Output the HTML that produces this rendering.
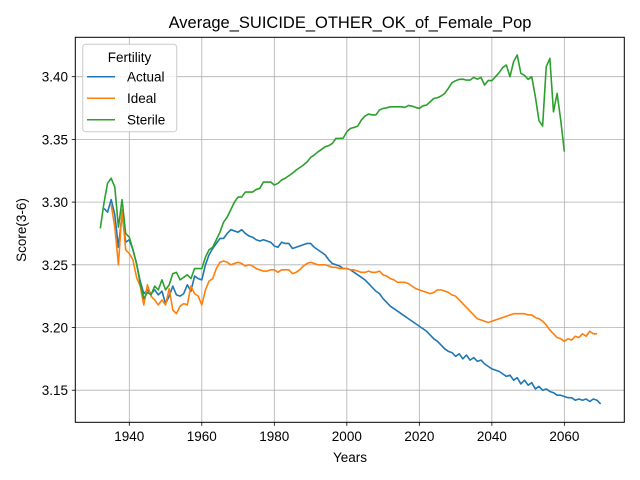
<!DOCTYPE html>
<html><head><meta charset="utf-8"><style>
body{margin:0;background:#fff;}
svg{display:block;font-family:"Liberation Sans","DejaVu Sans",sans-serif;}
</style></head><body>
<svg id="chart" width="640" height="480" xmlns="http://www.w3.org/2000/svg">
<rect width="640" height="480" fill="#fff"/>
<g id="grid"></g><g id="series"></g>
<rect x="75.3" y="37.3" width="549" height="385" fill="none" stroke="#000" stroke-width="1"/>
<g id="axes"></g>
<text x="350" y="28" text-anchor="middle" font-size="16.5" fill="#000">Average_SUICIDE_OTHER_OK_of_Female_Pop</text>
<text x="350" y="462" text-anchor="middle" font-size="13.5" fill="#000">Years</text>
<text transform="translate(26,230) rotate(-90)" text-anchor="middle" font-size="13.5" fill="#000">Score(3-6)</text>
<g>
<rect x="82.7" y="44.3" width="94" height="87.4" rx="3" fill="#fff" fill-opacity="0.8" stroke="#ccc"/>
<text x="129.5" y="62" text-anchor="middle" font-size="13.5">Fertility</text>
<line x1="87" y1="76.7" x2="115" y2="76.7" stroke="#1f77b4" stroke-width="1.5"/>
<text x="127" y="81.5" font-size="13.5">Actual</text>
<line x1="87" y1="98.2" x2="115" y2="98.2" stroke="#ff7f0e" stroke-width="1.5"/>
<text x="127" y="103" font-size="13.5">Ideal</text>
<line x1="87" y1="119.7" x2="115" y2="119.7" stroke="#2ca02c" stroke-width="1.5"/>
<text x="127" y="124.5" font-size="13.5">Sterile</text>
</g>
</svg>
<script>
const xTicks=[1940,1960,1980,2000,2020,2040,2060];
const yTicks=[3.15,3.20,3.25,3.30,3.35,3.40];
const yTickLabels=["3.15","3.20","3.25","3.30","3.35","3.40"];
const actualStart=1933;
const actualValues=[3.295,3.292,3.302,3.290,3.264,3.290,3.268,3.270,3.262,3.251,3.237,3.227,3.230,3.227,3.230,3.226,3.229,3.219,3.225,3.233,3.226,3.225,3.227,3.234,3.229,3.241,3.239,3.238,3.250,3.258,3.263,3.267,3.271,3.271,3.275,3.278,3.277,3.276,3.278,3.275,3.273,3.272,3.270,3.269,3.270,3.269,3.268,3.265,3.264,3.268,3.267,3.267,3.263,3.264,3.265,3.266,3.267,3.267,3.264,3.262,3.260,3.258,3.254,3.251,3.250,3.249,3.247,3.247,3.246,3.244,3.242,3.240,3.238,3.235,3.232,3.229,3.227,3.223,3.220,3.217,3.215,3.213,3.211,3.209,3.207,3.205,3.203,3.201,3.199,3.197,3.194,3.191,3.189,3.186,3.183,3.181,3.180,3.177,3.179,3.175,3.178,3.174,3.176,3.173,3.174,3.171,3.169,3.167,3.166,3.165,3.163,3.161,3.162,3.158,3.160,3.155,3.158,3.154,3.156,3.151,3.153,3.150,3.151,3.149,3.148,3.146,3.146,3.145,3.144,3.144,3.142,3.143,3.142,3.143,3.141,3.143,3.142,3.139];
const idealStart=1935;
const idealValues=[3.298,3.280,3.250,3.294,3.262,3.259,3.254,3.240,3.233,3.218,3.234,3.225,3.222,3.218,3.222,3.218,3.231,3.214,3.211,3.217,3.219,3.218,3.233,3.227,3.225,3.218,3.230,3.237,3.239,3.247,3.252,3.253,3.252,3.250,3.251,3.252,3.251,3.249,3.250,3.249,3.247,3.246,3.245,3.245,3.246,3.246,3.244,3.246,3.246,3.246,3.243,3.244,3.246,3.249,3.251,3.252,3.251,3.250,3.250,3.250,3.249,3.248,3.248,3.247,3.247,3.247,3.246,3.246,3.245,3.244,3.244,3.245,3.244,3.244,3.245,3.242,3.241,3.239,3.238,3.236,3.236,3.236,3.235,3.233,3.231,3.230,3.229,3.228,3.227,3.228,3.230,3.230,3.229,3.228,3.226,3.225,3.222,3.219,3.216,3.213,3.210,3.207,3.206,3.205,3.204,3.205,3.206,3.207,3.208,3.209,3.210,3.211,3.211,3.211,3.211,3.210,3.210,3.208,3.207,3.205,3.202,3.198,3.195,3.192,3.191,3.189,3.191,3.190,3.193,3.192,3.195,3.193,3.197,3.195,3.195];
const sterileStart=1932;
const sterileValues=[3.279,3.299,3.315,3.319,3.312,3.280,3.302,3.275,3.272,3.262,3.251,3.235,3.223,3.228,3.226,3.233,3.230,3.238,3.230,3.234,3.243,3.244,3.238,3.240,3.242,3.239,3.247,3.247,3.247,3.256,3.262,3.264,3.270,3.276,3.284,3.288,3.294,3.300,3.304,3.304,3.308,3.308,3.308,3.310,3.311,3.316,3.316,3.316,3.3136,3.315,3.3176,3.319,3.321,3.323,3.3255,3.3275,3.3295,3.332,3.3356,3.3375,3.340,3.342,3.3441,3.345,3.3468,3.3508,3.3508,3.351,3.3561,3.3588,3.3595,3.3606,3.3654,3.3686,3.3702,3.3695,3.3695,3.3734,3.3747,3.3752,3.376,3.376,3.376,3.376,3.3755,3.3771,3.3765,3.3755,3.3747,3.3768,3.3774,3.380,3.3827,3.3832,3.3846,3.3867,3.3907,3.3952,3.3968,3.3979,3.398,3.3973,3.3973,3.3995,3.398,3.3995,3.3934,3.397,3.3968,3.400,3.4032,3.4074,3.4093,3.400,3.412,3.4173,3.4027,3.401,3.3979,3.400,3.384,3.3649,3.3606,3.408,3.4146,3.372,3.3867,3.3654,3.3402];
const X0=129.3,XPY=3.6255,Y0=76.7,YPU=1254;
function xs(yr){return X0+(yr-1940)*XPY;}
function ys(v){return Y0+(3.40-v)*YPU;}
const NS="http://www.w3.org/2000/svg";
const grid=document.getElementById('grid'),axes=document.getElementById('axes'),ser=document.getElementById('series');
function mk(tag,attrs,parent){const e=document.createElementNS(NS,tag);for(const k in attrs)e.setAttribute(k,attrs[k]);parent.appendChild(e);return e;}
xTicks.forEach(t=>{const x=xs(t);
const g=mk('line',{x1:x,x2:x,y1:37.3,y2:422.3,stroke:'#b0b0b0','stroke-width':0.8},grid);


const tk=mk('line',{x1:x,x2:x,y1:422.3,y2:425.8,stroke:'#000','stroke-width':0.8},axes);


const tx=mk('text',{x:x,y:441,'text-anchor':'middle','font-size':13.5},axes);tx.textContent=t;


});
yTicks.forEach((t,i)=>{const y=ys(t);
const g=mk('line',{x1:75.3,x2:624.3,y1:y,y2:y,stroke:'#b0b0b0','stroke-width':0.8},grid);


const tk=mk('line',{x1:71.8,x2:75.3,y1:y,y2:y,stroke:'#000','stroke-width':0.8},axes);


const tx=mk('text',{x:68,y:y+5,'text-anchor':'end','font-size':13.5},axes);tx.textContent=yTickLabels[i];


});
function line(start,vals,color,name){
const pts=vals.map((v,i)=>xs(start+i).toFixed(2)+','+ys(v).toFixed(2)).join(' ');
const p=mk('polyline',{points:pts,fill:'none',stroke:color,'stroke-width':1.6,'stroke-linejoin':'round'},ser);


}
line(actualStart,actualValues,'#1f77b4','actual-line');
line(idealStart,idealValues,'#ff7f0e','ideal-line');
line(sterileStart,sterileValues,'#2ca02c','sterile-line');
</script>
</body></html>
